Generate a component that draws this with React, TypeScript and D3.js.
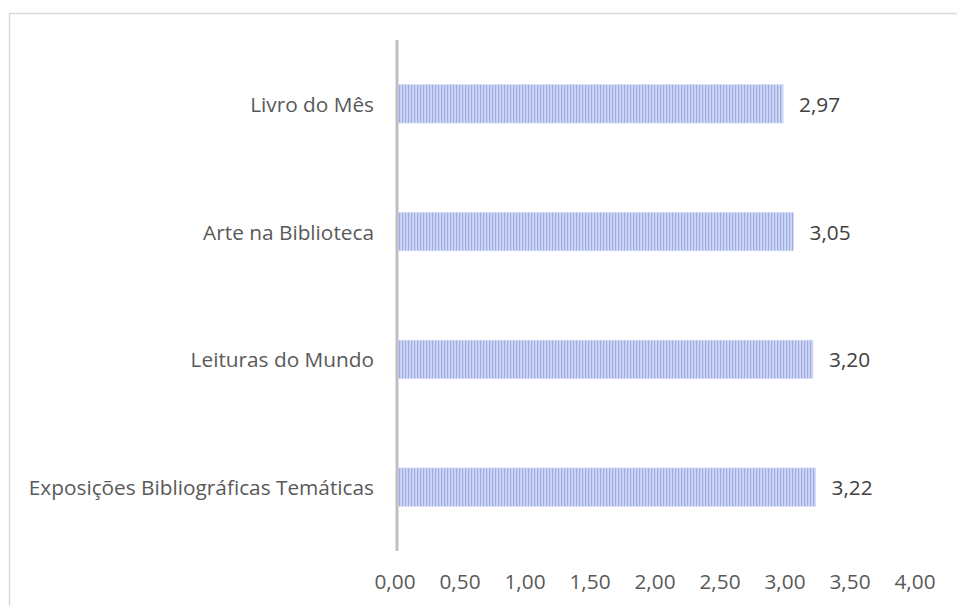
import React from "react";
import * as d3 from "d3";

const categories = [
  "Livro do Mês",
  "Arte na Biblioteca",
  "Leituras do Mundo",
  "Exposições Bibliográficas Temáticas",
];
const values = [2.97, 3.05, 3.2, 3.22];
const ticks = [0, 0.5, 1, 1.5, 2, 2.5, 3, 3.5, 4];

const W = 957;
const H = 606;
const fmt = (v: number) => v.toFixed(2).replace(".", ",");

export default function App() {
  const x = d3.scaleLinear().domain([0, 4]).range([397, 917]);
  const y = d3.scaleBand<string>().domain(categories).range([40, 551]).paddingInner(0.7).paddingOuter(0.35);
  const font = "'Open Sans', 'Liberation Sans', sans-serif";
  return (
    <svg
      width={W}
      height={H}
      style={{ position: "absolute", left: 0, top: 0, background: "#fff" }}
    >
      <defs>
        <pattern id="stripes" width={3} height={10} patternUnits="userSpaceOnUse">
          <rect width={3} height={10} fill="#cfd7f4" />
          <rect x={0} width={1.2} height={10} fill="#9dade3" />
        </pattern>
      </defs>
      <path d={`M9.5,${H} V13.5 H${W}`} fill="none" stroke="#d9d9d9" strokeWidth={1.5} />
      {categories.map((c, i) => (
        <g key={c}>
          <rect
            x={x(0)}
            y={y(c)!}
            width={x(values[i]) - x(0)}
            height={y.bandwidth()}
            fill="url(#stripes)"
            stroke="#d4dbf5"
            strokeWidth={0.8}
          />
          <text
            x={374}
            y={y(c)! + y.bandwidth() / 2}
            textAnchor="end"
            dominantBaseline="central"
            fontFamily={font}
            fontSize={20.8}
            fill="#595959"
          >
            {c}
          </text>
          <text
            x={x(values[i]) + 16}
            y={y(c)! + y.bandwidth() / 2}
            dominantBaseline="central"
            fontFamily={font}
            fontSize={20.8}
            fill="#404040"
          >
            {fmt(values[i])}
          </text>
        </g>
      ))}
      <line x1={x(0)} x2={x(0)} y1={40} y2={551} stroke="#bfbfbf" strokeWidth={3} />
      {ticks.map((t) => (
        <text
          key={t}
          x={x(t) - 2}
          y={581}
          textAnchor="middle"
          dominantBaseline="central"
          fontFamily={font}
          fontSize={20.8}
          fill="#595959"
        >
          {fmt(t)}
        </text>
      ))}
    </svg>
  );
}
